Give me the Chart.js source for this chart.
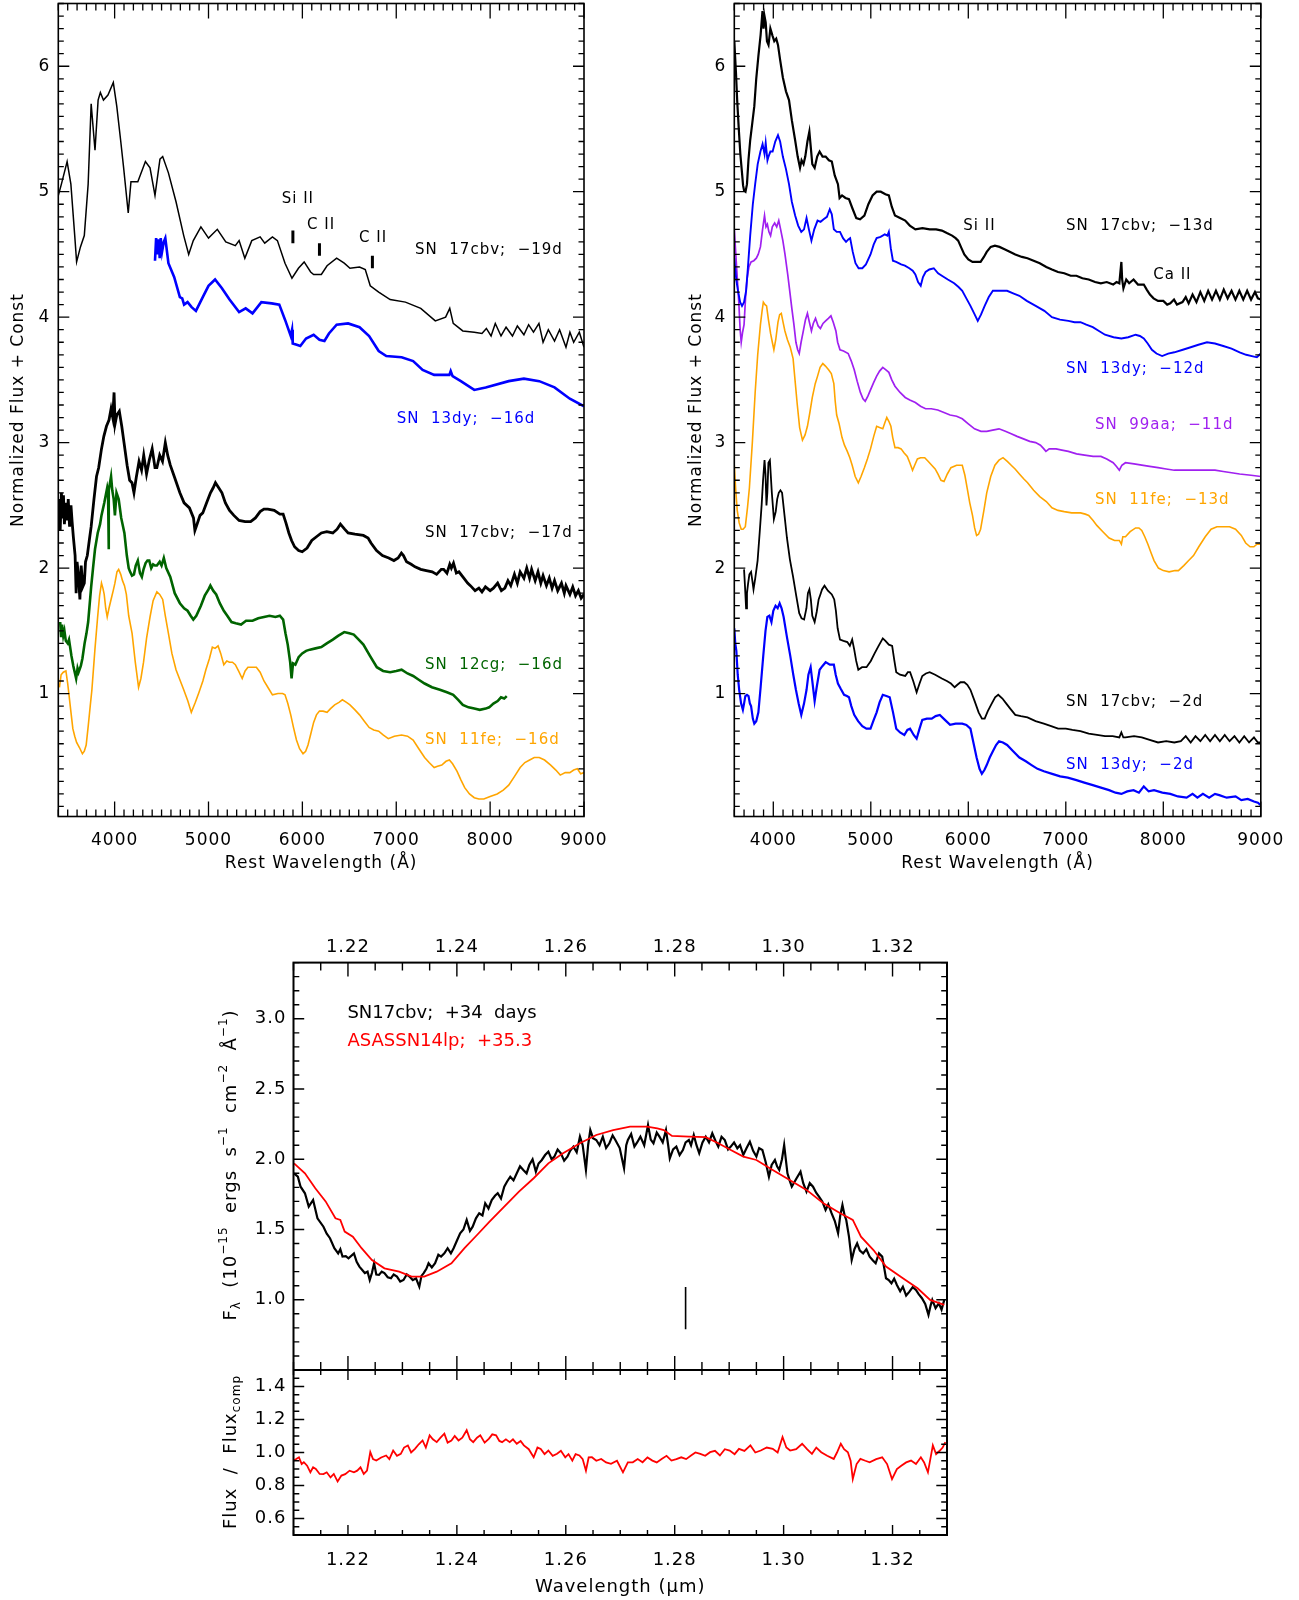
<!DOCTYPE html>
<html>
<head>
<meta charset="utf-8">
<script src="https://cdn.jsdelivr.net/npm/chart.js@4.4.1/dist/chart.umd.min.js"></script>
<style>
  html, body { margin: 0; padding: 0; background: #fff; }
  body { width: 1299px; height: 1600px; position: relative; overflow: hidden; }
  canvas { position: absolute; }
</style>
</head>
<body>
<canvas id="cTL" width="620" height="880" style="left:0;top:0"></canvas>
<canvas id="cTR" width="639" height="880" style="left:660px;top:0"></canvas>
<canvas id="cBU" width="780" height="470" style="left:200px;top:900px"></canvas>
<canvas id="cBL" width="780" height="230" style="left:200px;top:1370px"></canvas>
<script>
// ---- tick labels ----
const waveTicks = [4000, 5000, 6000, 7000, 8000, 9000];
const fluxTicks = [1, 2, 3, 4, 5, 6];
const micronTicks = [1.22, 1.24, 1.26, 1.28, 1.30, 1.32];
const nirTicks = [1.0, 1.5, 2.0, 2.5, 3.0];
const ratioTicks = [0.6, 0.8, 1.0, 1.2, 1.4];

// ---- left panel spectra [wavelength (A), normalized flux + const] ----
const cbv19 = [[3400,4.97],[3433,5.06],[3494,5.24],[3534,5.06],[3575,4.65],[3595,4.44],[3636,4.56],[3677,4.65],[3718,5.06],[3750,5.70],[3791,5.33],[3824,5.73],[3848,5.79],[3881,5.73],[3929,5.77],[3986,5.87],[4023,5.68],[4064,5.41],[4096,5.19],[4145,4.83],[4174,5.08],[4247,5.08],[4328,5.24],[4377,5.19],[4430,4.97],[4483,5.26],[4512,5.28],[4573,5.15],[4654,4.92],[4736,4.65],[4789,4.50],[4838,4.61],[4919,4.72],[5000,4.63],[5094,4.70],[5184,4.60],[5286,4.57],[5326,4.61],[5387,4.47],[5461,4.61],[5550,4.64],[5599,4.59],[5681,4.64],[5734,4.61],[5815,4.43],[5889,4.31],[5958,4.39],[6019,4.44],[6088,4.36],[6120,4.34],[6202,4.34],[6263,4.41],[6365,4.47],[6446,4.43],[6507,4.39],[6609,4.40],[6670,4.38],[6723,4.25],[6813,4.20],[6935,4.14],[7098,4.12],[7261,4.07],[7416,3.97],[7526,4.00],[7570,4.07],[7607,3.95],[7709,3.89],[7831,3.88],[7913,3.87],[7960,3.91],[8010,3.85],[8055,3.95],[8116,3.85],[8170,3.92],[8238,3.85],[8290,3.93],[8360,3.86],[8410,3.94],[8462,3.88],[8520,3.95],[8564,3.80],[8620,3.90],[8686,3.81],[8740,3.90],[8808,3.76],[8850,3.88],[8890,3.80],[8950,3.88],[9000,3.76]];
const dy16 = [[4430,4.45],[4442,4.63],[4455,4.50],[4471,4.62],[4480,4.47],[4491,4.63],[4505,4.52],[4524,4.60],[4540,4.63],[4573,4.43],[4634,4.32],[4695,4.16],[4720,4.15],[4740,4.10],[4777,4.12],[4820,4.08],[4866,4.05],[4939,4.16],[5000,4.25],[5070,4.30],[5143,4.23],[5224,4.14],[5326,4.04],[5396,4.07],[5469,4.03],[5563,4.12],[5673,4.11],[5754,4.10],[5815,3.98],[5876,3.85],[5890,3.90],[5897,3.79],[5940,3.78],[5978,3.77],[6039,3.83],[6120,3.86],[6182,3.82],[6235,3.81],[6283,3.87],[6365,3.94],[6487,3.95],[6609,3.92],[6711,3.85],[6813,3.73],[6894,3.69],[7057,3.68],[7180,3.65],[7281,3.58],[7404,3.54],[7566,3.54],[7580,3.57],[7600,3.53],[7688,3.49],[7831,3.42],[7953,3.44],[8198,3.49],[8360,3.51],[8523,3.49],[8686,3.44],[8849,3.35],[9000,3.29]];
const cbv17 = [[3400,2.42],[3410,2.55],[3420,2.30],[3433,2.60],[3445,2.40],[3455,2.58],[3465,2.35],[3480,2.52],[3495,2.38],[3506,2.55],[3520,2.33],[3535,2.50],[3547,2.37],[3560,2.25],[3579,2.10],[3590,1.80],[3600,2.05],[3616,1.93],[3630,1.75],[3644,2.02],[3660,1.85],[3677,1.88],[3690,2.05],[3709,2.10],[3730,2.22],[3750,2.33],[3780,2.55],[3807,2.73],[3830,2.80],[3860,2.95],[3885,3.05],[3913,3.13],[3940,3.18],[3962,3.27],[3980,3.20],[3994,3.40],[4005,3.15],[4023,3.22],[4050,3.25],[4076,3.13],[4100,3.00],[4133,2.82],[4160,2.70],[4185,2.68],[4206,2.60],[4230,2.72],[4260,2.85],[4287,2.78],[4310,2.90],[4340,2.75],[4369,2.86],[4400,2.95],[4430,2.80],[4450,2.80],[4480,2.90],[4510,2.85],[4540,3.00],[4565,2.90],[4593,2.82],[4640,2.72],[4695,2.60],[4740,2.52],[4797,2.48],[4840,2.40],[4855,2.30],[4878,2.35],[4910,2.42],[4939,2.44],[4980,2.52],[5021,2.60],[5050,2.64],[5074,2.68],[5100,2.65],[5143,2.60],[5180,2.52],[5224,2.46],[5270,2.42],[5326,2.38],[5390,2.37],[5449,2.37],[5500,2.40],[5550,2.45],[5590,2.47],[5632,2.47],[5700,2.46],[5760,2.43],[5795,2.43],[5825,2.36],[5856,2.28],[5885,2.22],[5917,2.17],[5960,2.14],[5998,2.13],[6050,2.16],[6100,2.22],[6150,2.25],[6202,2.28],[6260,2.29],[6324,2.28],[6370,2.31],[6405,2.35],[6450,2.31],[6487,2.28],[6560,2.27],[6650,2.26],[6700,2.24],[6731,2.20],[6790,2.14],[6853,2.10],[6920,2.08],[6975,2.06],[7020,2.08],[7055,2.12],[7077,2.10],[7110,2.05],[7159,2.03],[7200,2.01],[7261,1.99],[7320,1.98],[7383,1.97],[7430,1.95],[7480,1.99],[7505,1.99],[7540,1.96],[7570,2.03],[7587,2.00],[7610,2.04],[7640,1.96],[7668,1.97],[7720,1.92],[7760,1.88],[7790,1.86],[7840,1.82],[7880,1.84],[7913,1.81],[7950,1.85],[8000,1.82],[8035,1.84],[8080,1.88],[8120,1.82],[8157,1.84],[8190,1.90],[8220,1.86],[8259,1.95],[8290,1.88],[8320,1.97],[8360,1.92],[8390,2.00],[8420,1.92],[8442,1.99],[8480,1.90],[8510,1.97],[8540,1.88],[8564,1.94],[8600,1.86],[8630,1.92],[8660,1.84],[8686,1.90],[8720,1.82],[8760,1.88],[8790,1.80],[8808,1.86],[8850,1.79],[8880,1.85],[8910,1.78],[8940,1.82],[8970,1.76],[9000,1.79]];
const cg12 = [[3420,1.57],[3430,1.45],[3440,1.55],[3453,1.46],[3465,1.50],[3480,1.42],[3500,1.40],[3514,1.43],[3540,1.30],[3560,1.22],[3575,1.17],[3590,1.12],[3605,1.20],[3616,1.17],[3640,1.22],[3657,1.28],[3680,1.40],[3700,1.48],[3718,1.57],[3750,1.85],[3770,2.00],[3791,2.15],[3820,2.28],[3845,2.35],[3860,2.42],[3890,2.52],[3921,2.64],[3930,2.60],[3935,2.15],[3940,2.62],[3962,2.73],[3975,2.62],[3990,2.55],[4003,2.42],[4020,2.60],[4043,2.55],[4070,2.40],[4104,2.28],[4130,2.10],[4150,2.00],[4165,1.97],[4185,1.94],[4206,1.95],[4225,2.02],[4247,2.06],[4270,1.96],[4290,1.93],[4308,1.99],[4330,2.04],[4350,2.06],[4369,2.06],[4390,2.00],[4410,2.03],[4430,2.02],[4450,2.02],[4480,2.05],[4500,2.02],[4524,2.08],[4550,2.00],[4593,1.93],[4640,1.80],[4695,1.72],[4740,1.68],[4777,1.66],[4810,1.62],[4838,1.59],[4870,1.62],[4919,1.70],[4960,1.78],[5000,1.83],[5020,1.86],[5050,1.82],[5082,1.79],[5120,1.72],[5163,1.66],[5200,1.62],[5245,1.57],[5290,1.56],[5347,1.55],[5400,1.58],[5469,1.58],[5530,1.60],[5591,1.61],[5650,1.62],[5713,1.61],[5760,1.62],[5795,1.59],[5820,1.48],[5844,1.39],[5870,1.25],[5885,1.12],[5900,1.24],[5925,1.23],[5960,1.29],[5998,1.32],[6040,1.34],[6080,1.35],[6140,1.36],[6202,1.37],[6260,1.40],[6324,1.43],[6380,1.46],[6446,1.49],[6500,1.48],[6548,1.47],[6600,1.43],[6650,1.39],[6720,1.30],[6793,1.21],[6860,1.18],[6935,1.17],[7000,1.18],[7057,1.19],[7120,1.16],[7180,1.14],[7240,1.11],[7302,1.08],[7380,1.05],[7465,1.03],[7540,1.01],[7607,0.99],[7660,0.95],[7709,0.91],[7770,0.89],[7831,0.88],[7890,0.87],[7953,0.88],[7990,0.89],[8035,0.92],[8080,0.94],[8116,0.97],[8150,0.96],[8177,0.98]];
const fe16 = [[3412,1.05],[3430,1.15],[3453,1.17],[3481,1.18],[3500,1.08],[3514,0.99],[3535,0.85],[3555,0.72],[3575,0.66],[3595,0.61],[3625,0.57],[3657,0.52],[3677,0.54],[3697,0.59],[3720,0.75],[3740,0.90],[3758,1.03],[3790,1.35],[3819,1.61],[3840,1.78],[3860,1.88],[3875,1.84],[3889,1.79],[3905,1.68],[3921,1.61],[3940,1.68],[3962,1.75],[3985,1.82],[4003,1.88],[4025,1.97],[4043,1.99],[4065,1.95],[4084,1.90],[4105,1.86],[4125,1.79],[4150,1.62],[4186,1.48],[4220,1.25],[4255,1.05],[4280,1.12],[4308,1.25],[4340,1.44],[4377,1.61],[4410,1.74],[4450,1.81],[4480,1.79],[4512,1.75],[4540,1.62],[4573,1.48],[4610,1.32],[4654,1.19],[4700,1.10],[4736,1.03],[4780,0.94],[4817,0.85],[4860,0.93],[4899,1.01],[4940,1.10],[4972,1.19],[5010,1.28],[5041,1.37],[5070,1.36],[5102,1.38],[5130,1.32],[5163,1.23],[5195,1.26],[5224,1.25],[5255,1.25],[5286,1.23],[5320,1.18],[5359,1.12],[5390,1.18],[5420,1.21],[5465,1.21],[5510,1.21],[5550,1.17],[5591,1.10],[5640,1.04],[5681,0.99],[5740,1.00],[5790,1.00],[5815,0.99],[5845,0.92],[5876,0.83],[5905,0.73],[5937,0.63],[5970,0.56],[6007,0.52],[6035,0.54],[6060,0.59],[6090,0.68],[6120,0.77],[6150,0.83],[6182,0.86],[6220,0.86],[6263,0.85],[6300,0.88],[6344,0.91],[6390,0.93],[6426,0.95],[6470,0.93],[6507,0.91],[6560,0.87],[6609,0.83],[6660,0.78],[6711,0.73],[6760,0.71],[6813,0.70],[6860,0.67],[6915,0.64],[6980,0.66],[7057,0.67],[7120,0.66],[7180,0.63],[7240,0.56],[7302,0.49],[7350,0.45],[7404,0.41],[7440,0.42],[7485,0.43],[7530,0.46],[7566,0.47],[7600,0.44],[7648,0.38],[7690,0.31],[7729,0.25],[7780,0.20],[7831,0.17],[7880,0.16],[7933,0.16],[8000,0.18],[8075,0.20],[8140,0.23],[8198,0.27],[8260,0.34],[8320,0.41],[8370,0.45],[8421,0.47],[8470,0.49],[8523,0.49],[8580,0.47],[8645,0.43],[8700,0.39],[8747,0.35],[8800,0.37],[8849,0.37],[8890,0.39],[8930,0.40],[8965,0.36],[9000,0.37]];
// line-identification marks: [wavelength, bottom, top]
const leftMarks = [[5899, 4.59, 4.69], [6182, 4.49, 4.59], [6746, 4.39, 4.49]];

// ---- right panel spectra ----
const cbv13 = [[3600,6.20],[3617,5.95],[3630,5.72],[3646,5.50],[3662,5.30],[3679,5.15],[3690,5.05],[3700,5.01],[3715,5.00],[3730,5.06],[3745,5.25],[3763,5.41],[3785,5.55],[3805,5.68],[3825,5.90],[3847,6.08],[3870,6.25],[3889,6.44],[3900,6.30],[3910,6.40],[3922,6.35],[3935,6.20],[3951,6.17],[3970,6.30],[3993,6.24],[4010,6.20],[4030,6.22],[4048,6.17],[4070,6.05],[4098,5.91],[4130,5.80],[4161,5.73],[4190,5.57],[4224,5.41],[4250,5.28],[4274,5.19],[4290,5.25],[4310,5.22],[4328,5.28],[4350,5.40],[4370,5.48],[4385,5.35],[4400,5.22],[4424,5.19],[4450,5.28],[4475,5.32],[4505,5.28],[4537,5.28],[4570,5.25],[4600,5.24],[4630,5.13],[4663,5.06],[4680,4.95],[4705,4.97],[4740,4.95],[4776,4.94],[4810,4.87],[4851,4.79],[4890,4.78],[4934,4.81],[4975,4.90],[5018,4.97],[5060,5.00],[5102,5.00],[5150,4.98],[5185,4.97],[5215,4.88],[5248,4.81],[5300,4.79],[5353,4.77],[5400,4.73],[5457,4.70],[5530,4.71],[5604,4.70],[5670,4.70],[5729,4.69],[5780,4.67],[5834,4.65],[5870,4.63],[5896,4.61],[5930,4.55],[5959,4.50],[6000,4.46],[6043,4.44],[6090,4.44],[6126,4.44],[6160,4.48],[6189,4.52],[6230,4.56],[6273,4.57],[6320,4.56],[6377,4.54],[6430,4.52],[6482,4.50],[6550,4.48],[6607,4.47],[6670,4.45],[6733,4.43],[6800,4.40],[6858,4.38],[6920,4.36],[6984,4.35],[7050,4.33],[7109,4.33],[7170,4.31],[7235,4.30],[7300,4.28],[7360,4.27],[7420,4.28],[7486,4.26],[7520,4.28],[7549,4.27],[7565,4.40],[7570,4.44],[7578,4.30],[7591,4.23],[7620,4.30],[7650,4.27],[7695,4.30],[7740,4.26],[7800,4.26],[7830,4.22],[7863,4.18],[7900,4.15],[7946,4.13],[8000,4.13],[8040,4.10],[8072,4.11],[8110,4.14],[8140,4.10],[8197,4.12],[8230,4.16],[8260,4.11],[8300,4.18],[8340,4.12],[8380,4.20],[8420,4.13],[8460,4.21],[8500,4.14],[8540,4.21],[8580,4.14],[8620,4.22],[8660,4.15],[8700,4.21],[8740,4.14],[8780,4.21],[8820,4.14],[8860,4.21],[8900,4.14],[8940,4.20],[8970,4.15],[9000,4.14]];
const dy12 = [[3600,4.47],[3620,4.30],[3638,4.21],[3660,4.12],[3679,4.09],[3700,4.12],[3721,4.21],[3740,4.40],[3763,4.65],[3790,4.90],[3814,5.06],[3840,5.22],[3868,5.32],[3890,5.38],[3910,5.30],[3922,5.39],[3940,5.25],[3951,5.28],[3970,5.32],[3993,5.32],[4020,5.40],[4048,5.45],[4070,5.40],[4098,5.28],[4130,5.18],[4161,5.06],[4190,4.92],[4224,4.81],[4255,4.73],[4287,4.68],[4315,4.70],[4341,4.79],[4365,4.70],[4391,4.61],[4420,4.70],[4454,4.77],[4485,4.76],[4516,4.78],[4550,4.80],[4579,4.86],[4600,4.82],[4621,4.70],[4650,4.68],[4684,4.68],[4715,4.63],[4746,4.60],[4770,4.62],[4788,4.63],[4815,4.52],[4843,4.43],[4875,4.39],[4913,4.39],[4950,4.42],[4997,4.50],[5030,4.58],[5060,4.63],[5100,4.64],[5143,4.66],[5170,4.65],[5185,4.68],[5205,4.55],[5227,4.45],[5260,4.44],[5311,4.42],[5350,4.41],[5395,4.39],[5430,4.37],[5457,4.34],[5485,4.28],[5512,4.25],[5535,4.32],[5562,4.36],[5600,4.38],[5646,4.39],[5690,4.35],[5729,4.33],[5790,4.30],[5855,4.27],[5900,4.24],[5938,4.21],[5980,4.15],[6022,4.09],[6060,4.03],[6097,3.97],[6130,4.02],[6168,4.09],[6210,4.16],[6252,4.21],[6320,4.21],[6398,4.21],[6460,4.19],[6524,4.17],[6600,4.13],[6691,4.09],[6780,4.05],[6858,4.00],[6940,3.98],[7026,3.97],[7090,3.96],[7151,3.96],[7210,3.94],[7277,3.92],[7340,3.89],[7402,3.86],[7490,3.84],[7570,3.83],[7640,3.84],[7716,3.86],[7760,3.85],[7800,3.83],[7840,3.79],[7883,3.74],[7930,3.71],[7988,3.69],[8050,3.71],[8113,3.72],[8200,3.74],[8281,3.76],[8360,3.78],[8448,3.80],[8530,3.79],[8615,3.77],[8700,3.75],[8783,3.72],[8850,3.70],[8908,3.69],[8960,3.68],[9000,3.71]];
const aa99 = [[3600,4.70],[3621,4.43],[3646,4.12],[3660,3.90],[3671,3.80],[3685,3.88],[3700,3.94],[3715,4.15],[3730,4.30],[3750,4.40],[3772,4.44],[3800,4.45],[3826,4.47],[3845,4.50],[3868,4.56],[3890,4.70],[3910,4.81],[3925,4.72],[3939,4.74],[3955,4.68],[3972,4.65],[3990,4.72],[4014,4.75],[4035,4.72],[4056,4.77],[4075,4.70],[4098,4.61],[4120,4.50],[4148,4.34],[4170,4.20],[4190,4.07],[4210,3.95],[4232,3.80],[4250,3.74],[4266,3.71],[4285,3.80],[4308,3.89],[4330,3.98],[4350,4.03],[4370,3.96],[4391,3.89],[4410,3.95],[4433,3.99],[4460,3.93],[4483,3.91],[4510,3.95],[4537,3.97],[4565,3.99],[4591,4.01],[4615,3.96],[4642,3.89],[4660,3.80],[4684,3.74],[4720,3.73],[4768,3.71],[4800,3.65],[4830,3.58],[4860,3.49],[4893,3.40],[4920,3.35],[4943,3.33],[4970,3.37],[4997,3.42],[5030,3.48],[5060,3.53],[5090,3.57],[5123,3.60],[5155,3.58],[5185,3.56],[5215,3.50],[5248,3.45],[5300,3.40],[5353,3.36],[5400,3.34],[5457,3.32],[5510,3.29],[5562,3.27],[5620,3.27],[5687,3.26],[5750,3.24],[5813,3.22],[5880,3.21],[5938,3.19],[6000,3.15],[6064,3.11],[6130,3.09],[6189,3.09],[6250,3.10],[6315,3.11],[6380,3.09],[6440,3.07],[6500,3.05],[6566,3.03],[6630,3.01],[6691,3.00],[6740,2.98],[6775,2.95],[6796,2.93],[6830,2.95],[6900,2.95],[6960,2.94],[7026,2.93],[7110,2.91],[7193,2.90],[7280,2.89],[7360,2.89],[7420,2.87],[7486,2.84],[7520,2.81],[7549,2.78],[7575,2.82],[7612,2.84],[7700,2.83],[7779,2.82],[7860,2.81],[7946,2.80],[8030,2.79],[8113,2.78],[8200,2.78],[8281,2.78],[8360,2.78],[8448,2.78],[8530,2.78],[8615,2.77],[8700,2.76],[8783,2.75],[8900,2.74],[9000,2.73]];
const fe13 = [[3600,2.82],[3615,2.62],[3630,2.46],[3650,2.36],[3671,2.31],[3690,2.31],[3713,2.33],[3735,2.48],[3755,2.64],[3785,3.00],[3814,3.40],[3840,3.70],[3868,3.94],[3885,4.05],[3898,4.12],[3915,4.10],[3931,4.09],[3950,3.98],[3972,3.87],[3990,3.80],[4006,3.74],[4025,3.82],[4048,3.96],[4065,4.02],[4082,4.03],[4100,3.96],[4119,3.89],[4145,3.82],[4174,3.76],[4203,3.67],[4225,3.48],[4245,3.31],[4270,3.12],[4299,3.02],[4325,3.06],[4350,3.13],[4375,3.24],[4400,3.36],[4430,3.47],[4454,3.53],[4480,3.60],[4508,3.63],[4535,3.61],[4567,3.58],[4595,3.55],[4621,3.47],[4635,3.33],[4650,3.22],[4675,3.15],[4705,3.04],[4730,2.98],[4759,2.93],[4785,2.88],[4809,2.82],[4840,2.73],[4872,2.68],[4900,2.73],[4934,2.80],[4965,2.87],[4997,2.95],[5030,3.05],[5060,3.13],[5090,3.12],[5123,3.11],[5145,3.16],[5164,3.20],[5185,3.17],[5206,3.13],[5225,3.04],[5248,2.96],[5280,2.96],[5311,2.95],[5340,2.92],[5374,2.89],[5400,2.84],[5428,2.78],[5450,2.82],[5478,2.87],[5510,2.88],[5553,2.88],[5590,2.85],[5625,2.82],[5660,2.79],[5688,2.75],[5720,2.70],[5751,2.69],[5785,2.75],[5822,2.80],[5880,2.82],[5938,2.82],[5965,2.74],[5988,2.64],[6015,2.52],[6043,2.42],[6065,2.32],[6085,2.26],[6105,2.27],[6126,2.31],[6160,2.46],[6189,2.60],[6230,2.73],[6273,2.82],[6315,2.86],[6356,2.88],[6400,2.85],[6440,2.82],[6480,2.79],[6524,2.75],[6570,2.71],[6608,2.68],[6670,2.62],[6733,2.57],[6800,2.53],[6858,2.48],[6920,2.46],[6984,2.45],[7060,2.44],[7151,2.44],[7200,2.43],[7235,2.42],[7280,2.38],[7318,2.34],[7380,2.29],[7444,2.24],[7500,2.22],[7549,2.22],[7570,2.19],[7585,2.25],[7612,2.25],[7660,2.29],[7716,2.32],[7750,2.32],[7779,2.30],[7810,2.25],[7842,2.19],[7875,2.12],[7905,2.06],[7950,2.00],[8000,1.98],[8060,1.97],[8120,1.98],[8155,1.98],[8210,2.02],[8260,2.06],[8310,2.10],[8364,2.17],[8430,2.25],[8490,2.31],[8550,2.33],[8615,2.33],[8680,2.33],[8741,2.31],[8800,2.26],[8845,2.20],[8890,2.17],[8929,2.17],[8960,2.19],[9000,2.19]];
const cbv2 = [[3700,1.99],[3710,1.85],[3721,1.68],[3730,1.80],[3742,1.88],[3755,1.95],[3772,1.97],[3785,1.90],[3797,1.83],[3815,1.92],[3839,2.06],[3860,2.28],[3881,2.51],[3895,2.70],[3910,2.86],[3920,2.75],[3930,2.50],[3939,2.60],[3950,2.84],[3965,2.86],[3985,2.60],[4006,2.39],[4025,2.45],[4040,2.55],[4056,2.60],[4073,2.62],[4090,2.60],[4115,2.42],[4140,2.24],[4170,2.07],[4203,1.93],[4235,1.78],[4266,1.64],[4290,1.60],[4316,1.59],[4340,1.68],[4355,1.80],[4370,1.83],[4385,1.75],[4400,1.62],[4424,1.57],[4445,1.65],[4465,1.75],[4483,1.79],[4500,1.83],[4525,1.86],[4560,1.82],[4600,1.79],[4625,1.75],[4642,1.66],[4660,1.52],[4684,1.43],[4720,1.42],[4759,1.41],[4785,1.38],[4809,1.43],[4830,1.35],[4850,1.26],[4872,1.19],[4910,1.21],[4956,1.21],[5000,1.26],[5039,1.32],[5080,1.38],[5123,1.44],[5150,1.42],[5185,1.39],[5219,1.38],[5240,1.27],[5261,1.17],[5300,1.15],[5353,1.14],[5380,1.17],[5403,1.17],[5435,1.10],[5470,1.01],[5500,1.08],[5528,1.14],[5565,1.16],[5604,1.17],[5660,1.15],[5729,1.12],[5780,1.10],[5822,1.08],[5860,1.05],[5888,1.07],[5920,1.09],[5959,1.09],[5990,1.07],[6022,1.03],[6065,0.94],[6106,0.85],[6140,0.80],[6168,0.80],[6200,0.86],[6240,0.92],[6275,0.97],[6307,0.99],[6350,0.96],[6390,0.92],[6430,0.88],[6482,0.83],[6540,0.82],[6607,0.81],[6690,0.78],[6775,0.76],[6850,0.74],[6921,0.72],[7000,0.72],[7068,0.71],[7150,0.70],[7235,0.68],[7320,0.67],[7402,0.66],[7480,0.66],[7549,0.65],[7570,0.69],[7590,0.65],[7612,0.65],[7700,0.66],[7779,0.65],[7860,0.63],[7946,0.61],[8030,0.62],[8113,0.61],[8180,0.62],[8230,0.66],[8281,0.61],[8330,0.66],[8380,0.62],[8430,0.67],[8480,0.62],[8530,0.67],[8580,0.62],[8630,0.67],[8680,0.62],[8730,0.66],[8780,0.61],[8830,0.66],[8880,0.61],[8930,0.65],[8970,0.61],[9000,0.61]];
const dy2 = [[3600,1.52],[3610,1.40],[3621,1.34],[3635,1.15],[3650,1.03],[3670,0.92],[3688,0.87],[3700,0.92],[3713,0.98],[3730,0.99],[3746,0.98],[3760,0.92],[3772,0.90],[3790,0.80],[3805,0.76],[3825,0.78],[3847,0.85],[3870,1.05],[3897,1.30],[3920,1.50],[3939,1.61],[3960,1.62],[3981,1.57],[4000,1.66],[4023,1.70],[4045,1.68],[4065,1.72],[4085,1.68],[4106,1.61],[4140,1.45],[4174,1.30],[4205,1.15],[4232,1.03],[4260,0.92],[4287,0.83],[4315,0.92],[4341,1.03],[4360,1.15],[4383,1.21],[4400,1.10],[4424,0.94],[4445,1.05],[4475,1.19],[4505,1.22],[4537,1.25],[4580,1.23],[4621,1.23],[4640,1.15],[4663,1.08],[4690,1.04],[4726,0.99],[4755,0.98],[4776,0.97],[4800,0.90],[4830,0.83],[4870,0.78],[4913,0.74],[4955,0.72],[4997,0.72],[5030,0.79],[5060,0.85],[5090,0.93],[5123,0.99],[5160,0.98],[5194,0.97],[5228,0.85],[5261,0.72],[5300,0.69],[5344,0.67],[5375,0.71],[5403,0.72],[5440,0.67],[5470,0.64],[5500,0.72],[5528,0.79],[5575,0.80],[5625,0.80],[5665,0.82],[5708,0.83],[5760,0.79],[5813,0.75],[5870,0.76],[5938,0.76],[5980,0.75],[6022,0.72],[6055,0.60],[6085,0.49],[6115,0.40],[6139,0.36],[6165,0.39],[6189,0.43],[6220,0.49],[6252,0.54],[6285,0.59],[6315,0.62],[6355,0.61],[6398,0.59],[6460,0.54],[6524,0.49],[6590,0.46],[6649,0.43],[6710,0.40],[6775,0.38],[6860,0.36],[6942,0.34],[7020,0.33],[7109,0.31],[7190,0.29],[7277,0.27],[7360,0.25],[7444,0.23],[7510,0.21],[7570,0.20],[7630,0.22],[7695,0.23],[7750,0.21],[7800,0.26],[7850,0.22],[7905,0.23],[7990,0.21],[8072,0.20],[8150,0.18],[8239,0.17],[8300,0.20],[8350,0.17],[8406,0.20],[8470,0.17],[8530,0.20],[8574,0.19],[8650,0.17],[8741,0.18],[8800,0.15],[8866,0.16],[8930,0.14],[8970,0.13],[9000,0.11]];

// ---- NIR panel [wavelength (micron), flux] ----
const nir17cbv = [[1.2101,1.90],[1.2108,1.876],[1.2113,1.805],[1.2121,1.758],[1.2128,1.663],[1.2136,1.71],[1.2144,1.58],[1.2155,1.52],[1.2161,1.47],[1.2167,1.438],[1.2175,1.367],[1.2182,1.33],[1.2186,1.36],[1.2190,1.307],[1.2196,1.31],[1.2201,1.295],[1.2211,1.33],[1.2216,1.27],[1.2221,1.236],[1.2231,1.19],[1.2236,1.20],[1.2240,1.141],[1.2244,1.19],[1.2248,1.26],[1.2252,1.18],[1.2257,1.177],[1.2262,1.20],[1.2267,1.19],[1.2273,1.16],[1.2279,1.153],[1.2284,1.18],[1.2290,1.165],[1.2296,1.13],[1.2302,1.141],[1.2308,1.18],[1.2313,1.165],[1.2319,1.14],[1.2325,1.153],[1.2331,1.093],[1.2335,1.17],[1.2339,1.19],[1.2344,1.22],[1.2348,1.26],[1.2354,1.23],[1.2360,1.26],[1.2366,1.32],[1.2371,1.307],[1.2377,1.33],[1.2383,1.367],[1.2389,1.33],[1.2394,1.367],[1.2400,1.42],[1.2406,1.473],[1.2412,1.50],[1.2418,1.568],[1.2424,1.49],[1.2429,1.52],[1.2435,1.58],[1.2441,1.616],[1.2447,1.60],[1.2452,1.687],[1.2458,1.65],[1.2464,1.71],[1.2470,1.74],[1.2475,1.758],[1.2481,1.72],[1.2487,1.805],[1.2492,1.84],[1.2498,1.876],[1.2504,1.85],[1.2510,1.90],[1.2516,1.95],[1.2522,1.924],[1.2528,1.90],[1.2533,1.959],[1.2539,2.00],[1.2545,1.912],[1.2550,1.97],[1.2556,1.995],[1.2562,2.03],[1.2568,2.054],[1.2574,2.00],[1.2579,2.019],[1.2585,2.07],[1.2591,2.043],[1.2597,1.99],[1.2603,2.019],[1.2608,2.06],[1.2614,2.09],[1.2620,2.05],[1.2626,2.161],[1.2631,2.10],[1.2637,1.924],[1.2641,2.10],[1.2645,2.208],[1.2650,2.15],[1.2656,2.137],[1.2662,2.10],[1.2668,2.161],[1.2674,2.08],[1.2680,2.114],[1.2686,2.17],[1.2691,2.137],[1.2699,2.08],[1.2707,1.936],[1.2711,2.10],[1.2714,2.137],[1.2720,2.18],[1.2726,2.09],[1.2731,2.12],[1.2737,2.161],[1.2744,2.10],[1.2751,2.244],[1.2756,2.14],[1.2761,2.114],[1.2767,2.19],[1.2772,2.161],[1.2778,2.12],[1.2784,2.208],[1.2788,2.10],[1.2791,2.007],[1.2797,2.07],[1.2803,2.09],[1.2809,2.03],[1.2815,2.066],[1.2820,2.12],[1.2826,2.137],[1.2830,2.10],[1.2835,2.173],[1.2840,2.10],[1.2845,2.043],[1.2851,2.12],[1.2857,2.161],[1.2863,2.12],[1.2869,2.185],[1.2875,2.13],[1.2880,2.09],[1.2886,2.16],[1.2892,2.137],[1.2898,2.07],[1.2903,2.09],[1.2909,2.12],[1.2915,2.078],[1.2920,2.10],[1.2926,2.031],[1.2932,2.08],[1.2938,2.125],[1.2944,2.06],[1.2950,2.019],[1.2955,2.08],[1.2961,2.066],[1.2967,1.98],[1.2973,1.876],[1.2978,1.96],[1.2984,1.995],[1.2988,1.95],[1.2992,1.924],[1.2997,2.00],[1.3001,2.102],[1.3007,1.90],[1.3011,1.85],[1.3015,1.805],[1.3023,1.86],[1.3031,1.912],[1.3036,1.83],[1.3042,1.77],[1.3048,1.83],[1.3054,1.805],[1.3060,1.76],[1.3065,1.734],[1.3071,1.70],[1.3077,1.639],[1.3082,1.68],[1.3088,1.616],[1.3094,1.56],[1.3100,1.473],[1.3104,1.60],[1.3108,1.675],[1.3112,1.60],[1.3115,1.568],[1.3120,1.45],[1.3125,1.283],[1.3130,1.36],[1.3135,1.402],[1.3140,1.35],[1.3146,1.33],[1.3152,1.36],[1.3158,1.307],[1.3164,1.28],[1.3169,1.26],[1.3175,1.33],[1.3181,1.307],[1.3185,1.22],[1.3188,1.153],[1.3193,1.14],[1.3198,1.117],[1.3203,1.15],[1.3208,1.105],[1.3214,1.06],[1.3219,1.093],[1.3225,1.03],[1.3231,1.058],[1.3237,1.09],[1.3243,1.07],[1.3248,1.04],[1.3254,1.011],[1.3260,0.97],[1.3266,0.892],[1.3270,0.96],[1.3273,0.999],[1.3279,0.94],[1.3285,0.975],[1.3290,0.93],[1.3295,0.999]];
const nir14lp = [[1.2101,1.971],[1.2121,1.90],[1.2140,1.794],[1.2159,1.70],[1.2177,1.58],[1.2186,1.568],[1.2194,1.485],[1.2209,1.449],[1.2225,1.367],[1.2244,1.283],[1.2267,1.224],[1.2294,1.20],[1.2317,1.165],[1.2340,1.165],[1.2363,1.20],[1.2390,1.26],[1.2414,1.367],[1.2437,1.461],[1.2460,1.556],[1.2487,1.663],[1.2514,1.77],[1.2541,1.865],[1.2568,1.971],[1.2595,2.043],[1.2626,2.114],[1.2656,2.173],[1.2687,2.208],[1.2718,2.232],[1.2749,2.232],[1.2768,2.22],[1.2780,2.208],[1.2795,2.166],[1.2826,2.161],[1.2857,2.157],[1.2880,2.114],[1.2903,2.066],[1.2926,2.019],[1.2950,1.995],[1.2980,1.924],[1.3011,1.853],[1.3042,1.782],[1.3073,1.687],[1.3104,1.616],[1.3127,1.568],[1.3142,1.449],[1.3165,1.354],[1.3188,1.236],[1.3219,1.153],[1.3246,1.082],[1.3269,0.999],[1.3295,0.963]];
const nirRatio = [[1.2100,0.951],[1.2105,0.96],[1.2110,0.971],[1.2115,0.93],[1.2119,0.941],[1.2125,0.92],[1.2131,0.88],[1.2136,0.91],[1.2141,0.90],[1.2148,0.87],[1.2155,0.869],[1.2161,0.88],[1.2168,0.849],[1.2174,0.87],[1.2181,0.824],[1.2188,0.86],[1.2195,0.869],[1.2203,0.89],[1.2211,0.88],[1.2217,0.89],[1.2223,0.91],[1.2229,0.87],[1.2235,0.89],[1.2241,1.002],[1.2246,0.96],[1.2252,0.951],[1.2261,0.97],[1.2270,0.982],[1.2276,0.96],[1.2283,1.012],[1.2290,0.98],[1.2297,0.992],[1.2303,1.03],[1.2310,1.043],[1.2316,1.00],[1.2323,1.022],[1.2330,1.05],[1.2337,1.073],[1.2343,1.03],[1.2350,1.104],[1.2356,1.08],[1.2363,1.063],[1.2370,1.09],[1.2377,1.114],[1.2383,1.06],[1.2390,1.073],[1.2396,1.10],[1.2403,1.073],[1.2410,1.09],[1.2418,1.135],[1.2424,1.08],[1.2430,1.063],[1.2437,1.09],[1.2443,1.104],[1.2451,1.06],[1.2459,1.084],[1.2465,1.11],[1.2472,1.104],[1.2478,1.07],[1.2483,1.063],[1.2490,1.08],[1.2497,1.063],[1.2503,1.08],[1.2510,1.053],[1.2517,1.07],[1.2523,1.043],[1.2532,1.02],[1.2541,0.971],[1.2548,1.03],[1.2554,1.022],[1.2561,0.99],[1.2568,1.012],[1.2576,0.98],[1.2584,0.992],[1.2591,1.01],[1.2599,0.971],[1.2605,0.99],[1.2612,0.951],[1.2618,0.99],[1.2625,0.982],[1.2631,0.96],[1.2637,0.89],[1.2642,0.97],[1.2648,0.971],[1.2656,0.95],[1.2665,0.961],[1.2674,0.94],[1.2683,0.931],[1.2694,0.95],[1.2705,0.88],[1.2714,0.94],[1.2723,0.941],[1.2732,0.96],[1.2741,0.941],[1.2750,0.97],[1.2759,0.951],[1.2767,0.94],[1.2776,0.961],[1.2785,0.98],[1.2794,0.951],[1.2803,0.96],[1.2812,0.971],[1.2821,0.96],[1.2830,0.982],[1.2838,1.00],[1.2847,0.992],[1.2856,0.98],[1.2865,1.002],[1.2874,1.01],[1.2883,0.982],[1.2892,1.02],[1.2901,1.012],[1.2910,0.99],[1.2918,1.022],[1.2928,1.01],[1.2939,1.043],[1.2948,1.00],[1.2958,1.012],[1.2969,1.03],[1.2980,1.022],[1.2989,1.00],[1.2998,1.094],[1.3005,1.03],[1.3012,1.012],[1.3023,1.02],[1.3034,1.053],[1.3043,1.02],[1.3052,0.992],[1.3060,1.03],[1.3069,1.002],[1.3080,0.98],[1.3092,0.961],[1.3098,1.00],[1.3105,1.053],[1.3111,1.02],[1.3118,1.002],[1.3123,0.95],[1.3127,0.839],[1.3134,0.93],[1.3141,0.961],[1.3150,0.95],[1.3158,0.941],[1.3170,0.96],[1.3181,0.971],[1.3190,0.93],[1.3199,0.839],[1.3208,0.90],[1.3216,0.92],[1.3225,0.94],[1.3234,0.951],[1.3243,0.93],[1.3252,0.971],[1.3258,0.94],[1.3265,0.88],[1.3274,1.043],[1.3280,0.99],[1.3287,1.012],[1.3292,1.03],[1.3297,1.063]];
const nirMark = [1.282, 0.79, 1.09];

const BLUE = '#0000ff', GREEN = '#006400', ORANGE = '#ffa500', PURPLE = '#a020f0', RED = '#ff0000';
const FONT = "'DejaVu Sans', sans-serif";
Chart.defaults.font.family = FONT;
Chart.defaults.color = '#000';

function line(pairs, color, width, order) {
  return { data: pairs.map(([x, y]) => ({ x, y })), borderColor: color, borderWidth: width,
           pointRadius: 0, tension: 0, fill: false, order: order || 0 };
}
function marks(list, color, width) {
  return list.map(([x, y0, y1]) => line([[x, y0], [x, y1]], color, width, -1));
}

// fix the axis box size so the plot area lands where it should
function fixSize(size, horizontal) {
  return function (s) {
    if (horizontal) s.height = size; else s.width = size;
    s.paddingTop = 0; s.paddingBottom = 0; s.paddingLeft = 0; s.paddingRight = 0;
  };
}
function axis(o) {
  return {
    type: 'linear', min: o.min, max: o.max, position: o.position, bounds: 'data',
    afterBuildTicks: s => { s.ticks = (o.ticks || []).map(v => ({ value: v })); },
    afterFit: fixSize(o.size, o.position === 'bottom' || o.position === 'top'),
    grid: { display: false, drawTicks: false }, border: { display: false },
    ticks: { display: o.labels !== false, font: { size: o.font }, padding: o.padding || 0,
             maxRotation: 0, autoSkip: false, callback: o.fmt || (v => v) },
    title: { display: !!o.title, text: o.title, font: { size: o.font }, padding: o.titlePad || 0 }
  };
}

function stepValues(min, max, step) {
  const out = [];
  for (let n = Math.ceil(min / step - 1e-6); n <= Math.floor(max / step + 1e-6); n++) out.push(n * step);
  return out;
}

// IDL-style frame: inward ticks on all four sides, plus text labels
const idlPlugin = {
  id: 'idl',
  beforeDraw(chart, args, o) { chart.ctx.letterSpacing = (o.spacing || 0) + 'px'; },
  afterDraw(chart, args, o) {
    const { ctx, chartArea: a } = chart;
    const xs = chart.scales.x, ys = chart.scales.y;
    ctx.save();
    ctx.strokeStyle = '#000';
    ctx.lineWidth = o.tw;
    ctx.beginPath();
    const xMin = stepValues(xs.min, xs.max, o.xStep).filter(v => !o.xMajor.some(m => Math.abs(m - v) < o.xStep / 2));
    const yMin = stepValues(ys.min, ys.max, o.yStep).filter(v => !o.yMajor.some(m => Math.abs(m - v) < o.yStep / 2));
    const tx = (v, len) => {
      const p = xs.getPixelForValue(v);
      ctx.moveTo(p, a.top); ctx.lineTo(p, a.top + len);
      ctx.moveTo(p, a.bottom); ctx.lineTo(p, a.bottom - len);
    };
    const ty = (v, len) => {
      const p = ys.getPixelForValue(v);
      ctx.moveTo(a.left, p); ctx.lineTo(a.left + len, p);
      ctx.moveTo(a.right, p); ctx.lineTo(a.right - len, p);
    };
    o.xMajor.forEach(v => tx(v, o.xLen[0]));
    xMin.forEach(v => tx(v, o.xLen[1]));
    o.yMajor.forEach(v => ty(v, o.yLen[0]));
    yMin.forEach(v => ty(v, o.yLen[1]));
    ctx.stroke();
    ctx.lineWidth = o.lw;
    ctx.strokeRect(a.left, a.top, a.right - a.left, a.bottom - a.top);

    (o.labels || []).forEach(l => {
      ctx.font = (l.size || o.labelSize) + 'px ' + FONT;
      ctx.letterSpacing = (l.sp !== undefined ? l.sp : o.labelSpacing) + 'px';
      ctx.fillStyle = l.c || '#000';
      ctx.textAlign = 'left';
      ctx.textBaseline = 'middle';
      ctx.fillText(l.t, xs.getPixelForValue(l.x), ys.getPixelForValue(l.y));
    });

    if (o.rich) {
      const r = o.rich, small = Math.round(r.size * 0.66);
      ctx.translate(r.x, r.y);
      ctx.rotate(-Math.PI / 2);
      ctx.letterSpacing = r.sp + 'px';
      ctx.fillStyle = '#000';
      ctx.textBaseline = 'middle';
      ctx.textAlign = 'left';
      const fontOf = k => (k === 'n' ? r.size : small) + 'px ' + FONT;
      const widths = r.parts.map(([t, k]) => { ctx.font = fontOf(k); return ctx.measureText(t).width; });
      let x = -widths.reduce((s, w) => s + w, 0) / 2;
      r.parts.forEach(([t, k], i) => {
        ctx.font = fontOf(k);
        const dy = k === 'sup' ? -r.size * 0.42 : k === 'sub' ? r.size * 0.32 : 0;
        ctx.fillText(t, x, dy);
        x += widths[i];
      });
    }
    ctx.restore();
    ctx.letterSpacing = '0px';
  }
};

function panel(id, o) {
  return new Chart(document.getElementById(id), {
    type: 'line',
    data: { datasets: o.datasets },
    options: {
      responsive: false, animation: false, events: [],
      layout: { padding: o.pad },
      plugins: { legend: { display: false }, tooltip: { enabled: false }, idl: o.idl },
      scales: o.scales
    },
    plugins: [idlPlugin]
  });
}

const topIdl = { tw: 1.3, lw: 1.6, xStep: 100, yStep: 0.1, xMajor: waveTicks, yMajor: fluxTicks,
                 xLen: [15, 7], yLen: [11, 5.5], spacing: 1, labelSize: 15, labelSpacing: 1 };

// ---- top left ----
panel('cTL', {
  pad: { left: 0, top: 3.5, right: 36, bottom: 0 },
  datasets: [
    line(cbv19, '#000', 1.5, 1), line(dy16, BLUE, 2.6, 2), line(cbv17, '#000', 2.8, 3),
    line(cg12, GREEN, 2.6, 4), line(fe16, ORANGE, 1.6, 5),
    ...marks(leftMarks, '#000', 3)
  ],
  scales: {
    x: axis({ min: 3400, max: 9000, position: 'bottom', ticks: waveTicks, size: 63.5, font: 17, padding: 14,
              title: 'Rest Wavelength (Å)', titlePad: { top: 0, bottom: 6 } }),
    y: axis({ min: 0.02, max: 6.5, position: 'left', ticks: fluxTicks, size: 58.3, font: 17, padding: 8,
              title: 'Normalized Flux + Const', titlePad: { top: 8, bottom: 0 } })
  },
  idl: Object.assign({}, topIdl, { labels: [
    { t: 'Si II', x: 5780, y: 4.94 },
    { t: 'C II', x: 6049, y: 4.732 },
    { t: 'C II', x: 6603, y: 4.628 },
    { t: 'SN  17cbv;  −19d', x: 7200, y: 4.533 },
    { t: 'SN  13dy;  −16d', x: 7005, y: 3.184, c: BLUE },
    { t: 'SN  17cbv;  −17d', x: 7307, y: 2.280 },
    { t: 'SN  12cg;  −16d', x: 7307, y: 1.225, c: GREEN },
    { t: 'SN  11fe;  −16d', x: 7307, y: 0.630, c: ORANGE }
  ] })
});

// ---- top right ----
panel('cTR', {
  pad: { left: 0, top: 3.5, right: 38.2, bottom: 0 },
  datasets: [
    line(cbv13, '#000', 2.2, 1), line(dy12, BLUE, 1.9, 2), line(aa99, PURPLE, 1.7, 3),
    line(fe13, ORANGE, 1.6, 4), line(cbv2, '#000', 1.8, 5), line(dy2, BLUE, 2.2, 6)
  ],
  scales: {
    x: axis({ min: 3600, max: 9000, position: 'bottom', ticks: waveTicks, size: 63.5, font: 17, padding: 14,
              title: 'Rest Wavelength (Å)', titlePad: { top: 0, bottom: 6 } }),
    y: axis({ min: 0.02, max: 6.5, position: 'left', ticks: fluxTicks, size: 74.3, font: 17, padding: 8,
              title: 'Normalized Flux + Const', titlePad: { top: 26, bottom: 0 } })
  },
  idl: Object.assign({}, topIdl, { labels: [
    { t: 'Si II', x: 5949, y: 4.724 },
    { t: 'SN  17cbv;  −13d', x: 7002, y: 4.724 },
    { t: 'Ca II', x: 7897, y: 4.336 },
    { t: 'SN  13dy;  −12d', x: 7002, y: 3.585, c: BLUE },
    { t: 'SN  99aa;  −11d', x: 7299, y: 3.138, c: PURPLE },
    { t: 'SN  11fe;  −13d', x: 7299, y: 2.542, c: ORANGE },
    { t: 'SN  17cbv;  −2d', x: 7002, y: 0.935 },
    { t: 'SN  13dy;  −2d', x: 7002, y: 0.426, c: BLUE }
  ] })
});

const fmt2 = v => v.toFixed(2), fmt1 = v => v.toFixed(1);

// ---- NIR spectrum ----
panel('cBU', {
  pad: { left: 0, top: 0, right: 33, bottom: 0 },
  datasets: [
    line(nir14lp, RED, 1.8, 0), line(nir17cbv, '#000', 2.2, 1),
    ...marks([nirMark], '#000', 1.6)
  ],
  scales: {
    x2: axis({ min: 1.21, max: 1.33, position: 'top', ticks: micronTicks, size: 62.6, font: 18, padding: 4, fmt: fmt2 }),
    x: axis({ min: 1.21, max: 1.33, position: 'bottom', ticks: [], size: 0, font: 18, labels: false }),
    y: axis({ min: 0.5, max: 3.4, position: 'left', ticks: nirTicks, size: 93.5, font: 18, padding: 7, fmt: fmt1 })
  },
  idl: { tw: 1.4, lw: 2, xStep: 0.005, yStep: 0.1, xMajor: micronTicks, yMajor: nirTicks,
         xLen: [14, 8], yLen: [10.7, 5.8], spacing: 1, labelSize: 18, labelSpacing: 0,
         labels: [
           { t: 'SN17cbv;  +34  days', x: 1.2199, y: 3.039 },
           { t: 'ASASSN14lp;  +35.3', x: 1.2199, y: 2.837, c: RED }
         ],
         rich: { x: 31, y: 265, size: 18, sp: 1, parts: [
           ['F', 'n'], ['λ', 'sub'], ['  (10', 'n'], ['−15', 'sup'], ['  ergs  s', 'n'], ['−1', 'sup'],
           ['  cm', 'n'], ['−2', 'sup'], ['  Å', 'n'], ['−1', 'sup'], [')', 'n']
         ] } }
});

// ---- ratio ----
panel('cBL', {
  pad: { left: 0, top: 0, right: 33, bottom: 0 },
  datasets: [ line(nirRatio, RED, 1.8, 0) ],
  scales: {
    x: axis({ min: 1.21, max: 1.33, position: 'bottom', ticks: micronTicks, size: 65, font: 18, padding: 15, fmt: fmt2,
              title: 'Wavelength (μm)', titlePad: { top: 0, bottom: 2 } }),
    y: axis({ min: 0.5, max: 1.5, position: 'left', ticks: ratioTicks, size: 93.5, font: 18, padding: 7, fmt: fmt1 })
  },
  idl: { tw: 1.4, lw: 2, xStep: 0.005, yStep: 0.05, xMajor: micronTicks, yMajor: ratioTicks,
         xLen: [10, 5], yLen: [10.7, 5.8], spacing: 1,
         rich: { x: 31, y: 82, size: 18, sp: 1, parts: [['Flux  /  Flux', 'n'], ['comp', 'sub']] } }
});
</script>
</body>
</html>
